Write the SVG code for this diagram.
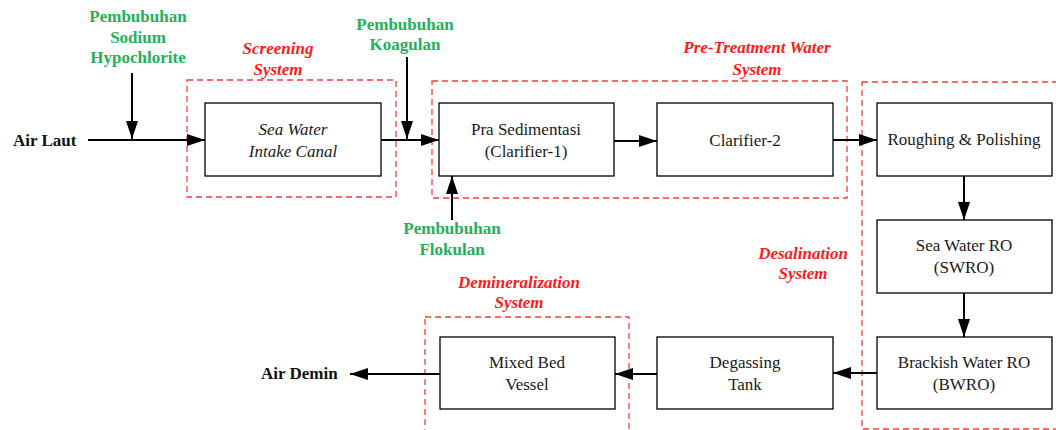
<svg xmlns="http://www.w3.org/2000/svg" width="1056" height="430" viewBox="0 0 1056 430">
  <style>
    .node rect { fill: #ffffff; stroke: #000000; stroke-width: 1.3; }
    .node text { font-family: "Liberation Serif", "Times New Roman", serif; font-size: 17px; fill: #1a1a1a; text-anchor: middle; }
    .node text.it { font-style: italic; }
    .zone rect { fill: none; stroke: #ff3b3b; stroke-width: 1.3; stroke-dasharray: 6 4; }
    .zone text { font-family: "Liberation Serif", "Times New Roman", serif; font-size: 17px; font-weight: bold; font-style: italic; fill: #ff1a1a; text-anchor: middle; }
    .dose { font-family: "Liberation Serif", "Times New Roman", serif; font-size: 17px; font-weight: bold; fill: #1fb25a; text-anchor: middle; }
    .term { font-family: "Liberation Serif", "Times New Roman", serif; font-size: 17px; font-weight: bold; fill: #111111; }
    .flow { fill: none; stroke: #000000; stroke-width: 2; }
  </style>
  <defs>
    <marker id="arrow" viewBox="0 0 18 12" refX="18" refY="6" markerWidth="18" markerHeight="12" markerUnits="userSpaceOnUse" orient="auto">
      <path d="M0,0 L18,6 L0,12 Z" fill="#000000"/>
    </marker>
  </defs>

  <rect width="1056" height="430" fill="#ffffff"/>

  <!-- system boundaries -->
  <g id="zone-screening" class="zone">
    <rect x="187" y="80" width="209" height="117"/>
    <text x="278" y="54">Screening</text>
    <text x="278" y="75">System</text>
  </g>
  <g id="zone-pretreatment" class="zone">
    <rect x="432" y="81" width="415" height="117"/>
    <text x="757" y="53">Pre-Treatment Water</text>
    <text x="757" y="75">System</text>
  </g>
  <g id="zone-desalination" class="zone">
    <rect x="862" y="82" width="200" height="347"/>
    <text x="803" y="259">Desalination</text>
    <text x="803" y="279">System</text>
  </g>
  <g id="zone-demineralization" class="zone">
    <rect x="425" y="317" width="204" height="120"/>
    <text x="519" y="288">Demineralization</text>
    <text x="519" y="308">System</text>
  </g>

  <!-- process units -->
  <g id="sea-water-intake" class="node">
    <rect x="205" y="103" width="176" height="73"/>
    <text class="it" x="293" y="135">Sea Water</text>
    <text class="it" x="293" y="157">Intake Canal</text>
  </g>
  <g id="pra-sedimentasi" class="node">
    <rect x="439" y="103" width="175" height="73"/>
    <text x="526" y="135">Pra Sedimentasi</text>
    <text x="526" y="157">(Clarifier-1)</text>
  </g>
  <g id="clarifier-2" class="node">
    <rect x="657" y="103" width="176" height="73"/>
    <text x="745" y="146">Clarifier-2</text>
  </g>
  <g id="roughing-polishing" class="node">
    <rect x="877" y="103" width="175" height="73"/>
    <text x="964" y="145">Roughing &amp; Polishing</text>
  </g>
  <g id="swro" class="node">
    <rect x="877" y="220" width="175" height="73"/>
    <text x="964" y="251">Sea Water RO</text>
    <text x="964" y="273">(SWRO)</text>
  </g>
  <g id="bwro" class="node">
    <rect x="877" y="337" width="175" height="72"/>
    <text x="964" y="368">Brackish Water RO</text>
    <text x="964" y="390">(BWRO)</text>
  </g>
  <g id="degassing-tank" class="node">
    <rect x="657" y="337" width="176" height="72"/>
    <text x="745" y="368">Degassing</text>
    <text x="745" y="390">Tank</text>
  </g>
  <g id="mixed-bed-vessel" class="node">
    <rect x="440" y="337" width="175" height="72"/>
    <text x="527" y="368">Mixed Bed</text>
    <text x="527" y="390">Vessel</text>
  </g>

  <!-- inlet / outlet and dosing labels -->
  <g id="air-laut">
    <text class="term" x="13" y="146">Air Laut</text>
  </g>
  <g id="air-demin">
    <text class="term" x="261" y="379">Air Demin</text>
  </g>
  <g id="dose-hypochlorite">
    <text class="dose" x="138" y="22">Pembubuhan</text>
    <text class="dose" x="138" y="43">Sodium</text>
    <text class="dose" x="138" y="63">Hypochlorite</text>
  </g>
  <g id="dose-koagulan">
    <text class="dose" x="405" y="30">Pembubuhan</text>
    <text class="dose" x="405" y="50">Koagulan</text>
  </g>
  <g id="dose-flokulan">
    <text class="dose" x="452" y="234">Pembubuhan</text>
    <text class="dose" x="452" y="255">Flokulan</text>
  </g>

  <!-- connectors -->
  <g id="connectors" class="flow">
    <line x1="88" y1="140" x2="205" y2="140" marker-end="url(#arrow)"/>
    <line x1="132" y1="73" x2="132" y2="139" marker-end="url(#arrow)"/>
    <line x1="381" y1="140" x2="439" y2="140" marker-end="url(#arrow)"/>
    <line x1="407" y1="57" x2="407" y2="139" marker-end="url(#arrow)"/>
    <line x1="452" y1="220" x2="452" y2="176" marker-end="url(#arrow)"/>
    <line x1="614" y1="141" x2="657" y2="141" marker-end="url(#arrow)"/>
    <line x1="833" y1="140" x2="877" y2="140" marker-end="url(#arrow)"/>
    <line x1="964" y1="176" x2="964" y2="220" marker-end="url(#arrow)"/>
    <line x1="964" y1="293" x2="964" y2="337" marker-end="url(#arrow)"/>
    <line x1="877" y1="373" x2="833" y2="373" marker-end="url(#arrow)"/>
    <line x1="657" y1="374" x2="615" y2="374" marker-end="url(#arrow)"/>
    <line x1="440" y1="374" x2="350" y2="374" marker-end="url(#arrow)"/>
  </g>
</svg>
